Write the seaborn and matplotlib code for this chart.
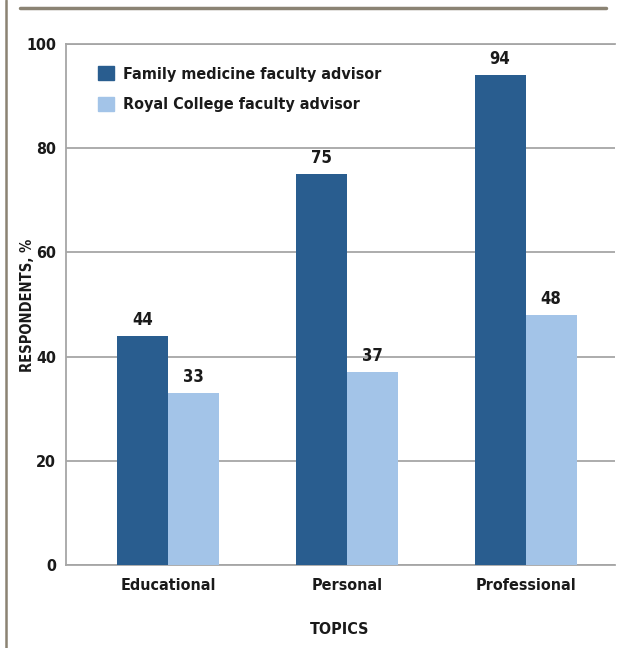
import matplotlib
matplotlib.use("Agg")
import matplotlib.pyplot as plt
import seaborn as sns
import pandas as pd
from matplotlib.lines import Line2D

categories = ["Educational", "Personal", "Professional"]
series_names = ["Family medicine faculty advisor", "Royal College faculty advisor"]
family_values = [44, 75, 94]
royal_values = [33, 37, 48]
y_ticks = [0, 20, 40, 60, 80, 100]

colors = ["#295d8f", "#a3c4e8"]

df = pd.DataFrame({
    "topic": categories * 2,
    "advisor": [series_names[0]] * 3 + [series_names[1]] * 3,
    "value": family_values + royal_values,
})

sns.set_theme(style="white")
plt.rcParams["font.family"] = ["DejaVu Sans"]
plt.rcParams["font.stretch"] = "condensed"

fig = plt.figure(figsize=(6.28, 6.48), dpi=100)
ax = fig.add_axes([66 / 628, 1 - 565 / 648, (615 - 66) / 628, (565 - 44) / 648])

sns.barplot(data=df, x="topic", y="value", hue="advisor", order=categories,
            hue_order=series_names, palette=colors, width=0.57, gap=0,
            saturation=1, ax=ax, zorder=3, edgecolor="none")

ax.set_ylim(0, 100)
ax.set_xlim(-0.57, 2.5)
ax.set_yticks(y_ticks)
ax.yaxis.grid(True, color="#a6a6a6", linewidth=1.3, zorder=0)
ax.set_axisbelow(True)
for side in ["left", "top", "bottom"]:
    ax.spines[side].set_visible(True)
    ax.spines[side].set_color("#a6a6a6")
    ax.spines[side].set_linewidth(1.3)
ax.spines["right"].set_visible(False)

ax.tick_params(axis="y", length=0, pad=7, labelsize=11.5)
ax.tick_params(axis="x", length=0, pad=9, labelsize=11.5)
for lbl in ax.get_yticklabels() + ax.get_xticklabels():
    lbl.set_fontweight("bold")
    lbl.set_color("#1a1a1a")

ax.set_ylabel("")
ax.set_xlabel("")
fig.text(27 / 628, 1 - 305 / 648, "RESPONDENTS, %", rotation=90, ha="center", va="center",
         fontsize=10.5, fontweight="bold", color="#1a1a1a")
fig.text(340 / 628, 1 - 630 / 648, "TOPICS", ha="center", va="center",
         fontsize=11.5, fontweight="bold", color="#1a1a1a")

for cont in ax.containers:
    ax.bar_label(cont, padding=5, fontsize=12, fontweight="bold", color="#1a1a1a")

handles = [plt.Rectangle((0, 0), 1, 1, color=c) for c in colors]
leg = ax.legend(handles, series_names, loc="upper left", bbox_to_anchor=(0.058, 0.958),
                frameon=False, fontsize=11.5, handlelength=1.0, handleheight=1.0,
                handletextpad=0.6, labelspacing=0.95, borderaxespad=0, borderpad=0)
for t in leg.get_texts():
    t.set_fontweight("bold")
    t.set_color("#1a1a1a")

frame_color = "#8b8373"
fig.add_artist(Line2D([20 / 628, 606 / 628], [1 - 7.5 / 648, 1 - 7.5 / 648],
                      transform=fig.transFigure, color=frame_color, linewidth=2.5))
fig.add_artist(Line2D([6 / 628, 6 / 628], [0, 1], transform=fig.transFigure,
                      color=frame_color, linewidth=1.8))

fig.savefig("out.png", dpi=100)
